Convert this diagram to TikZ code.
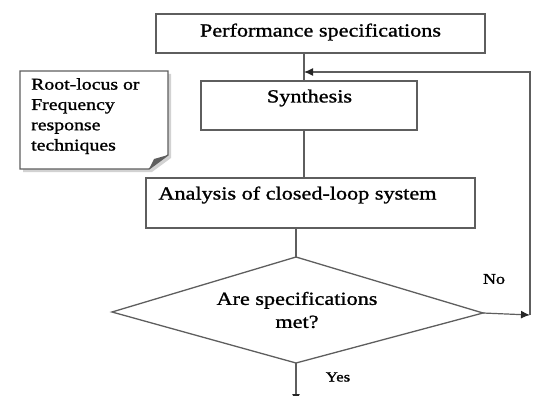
\documentclass[tikz,border=0pt]{standalone}
\usepackage{fontspec}
\newfontfamily\df[FakeStretch=1.2,FakeBold=1.2]{Liberation Serif}
\usetikzlibrary{arrows.meta}
\definecolor{ln}{HTML}{5E5E5E}
\begin{document}
\begin{tikzpicture}[x=1pt,y=-1pt,
  box/.style={draw=ln,line width=1.3pt,fill=white,minimum width=#1,inner sep=0pt},
  lbl/.style={font=\df\fontsize{18.5}{23}\selectfont,inner sep=0pt,align=center},
  conn/.style={draw=ln,line width=1.2pt},
  arr/.style={conn,-{Latex[length=9pt,width=8pt,fill=black!85,color=black!85]}}]
\useasboundingbox (0,0) rectangle (539,396);
% boxes
\node[box=329pt,minimum height=39pt] (perf) at (320.5,33.5) {};
\node[lbl] (perft) at (320.5,32) {Performance specifications};
\node[box=216pt,minimum height=49pt] (synth) at (309,105.5) {};
\node[lbl] (syntht) at (309.5,98) {Synthesis};
\node[box=329pt,minimum height=50pt] (anal) at (310.5,203) {};
\node[lbl] (analt) at (297.5,195) {Analysis of closed-loop system};
% decision diamond
\coordinate (dt) at (296,257);
\coordinate (dr) at (483,313);
\coordinate (db) at (296,363);
\coordinate (dl) at (112,312);
\draw[ln,line width=1.3pt] (dt) -- (dr) -- (db) -- (dl) -- cycle;
\node[lbl] (dect) at (297,310) {Are specifications\\met?};
% note
\fill[gray!35] (23,74) -- (171,74) -- (171,158) -- (152,172) -- (23,172) -- cycle;
\draw[ln,line width=1.3pt,fill=white] (20,71) -- (168,71) -- (168,155) -- (149,169) -- (20,169) -- cycle;
\fill[ln] (168,155) -- (149,169) -- (154,159) -- cycle;
\node[font=\df\fontsize{16.5}{20.3}\selectfont,inner sep=0pt,align=left,anchor=north west] (note) at (31,78)
  {Root-locus or\\Frequency\\response\\techniques};
% coordinates
\coordinate (c1) at (304,0);
\coordinate (r1) at (530,72);
\coordinate (r2) at (530,315);
\coordinate (bot) at (296,403);
% connectors
\draw[conn] (perf.south -| c1) -- (synth.north -| c1);
\draw[conn] (synth.south -| c1) -- (anal.north -| c1);
\draw[conn] (anal.south -| dt) -- (dt);
\draw[arr] (dr) -- (r2);
\draw[arr] (r2) -- (r1) -- (r1 -| c1);
\draw[arr] (db) -- (bot);
% labels
\node[font=\df\fontsize{15}{18}\selectfont,inner sep=0pt] (no) at (494,279) {No};
\node[font=\df\fontsize{14}{17}\selectfont,inner sep=0pt] (yes) at (338,377) {Yes};
\end{tikzpicture}
\end{document}
